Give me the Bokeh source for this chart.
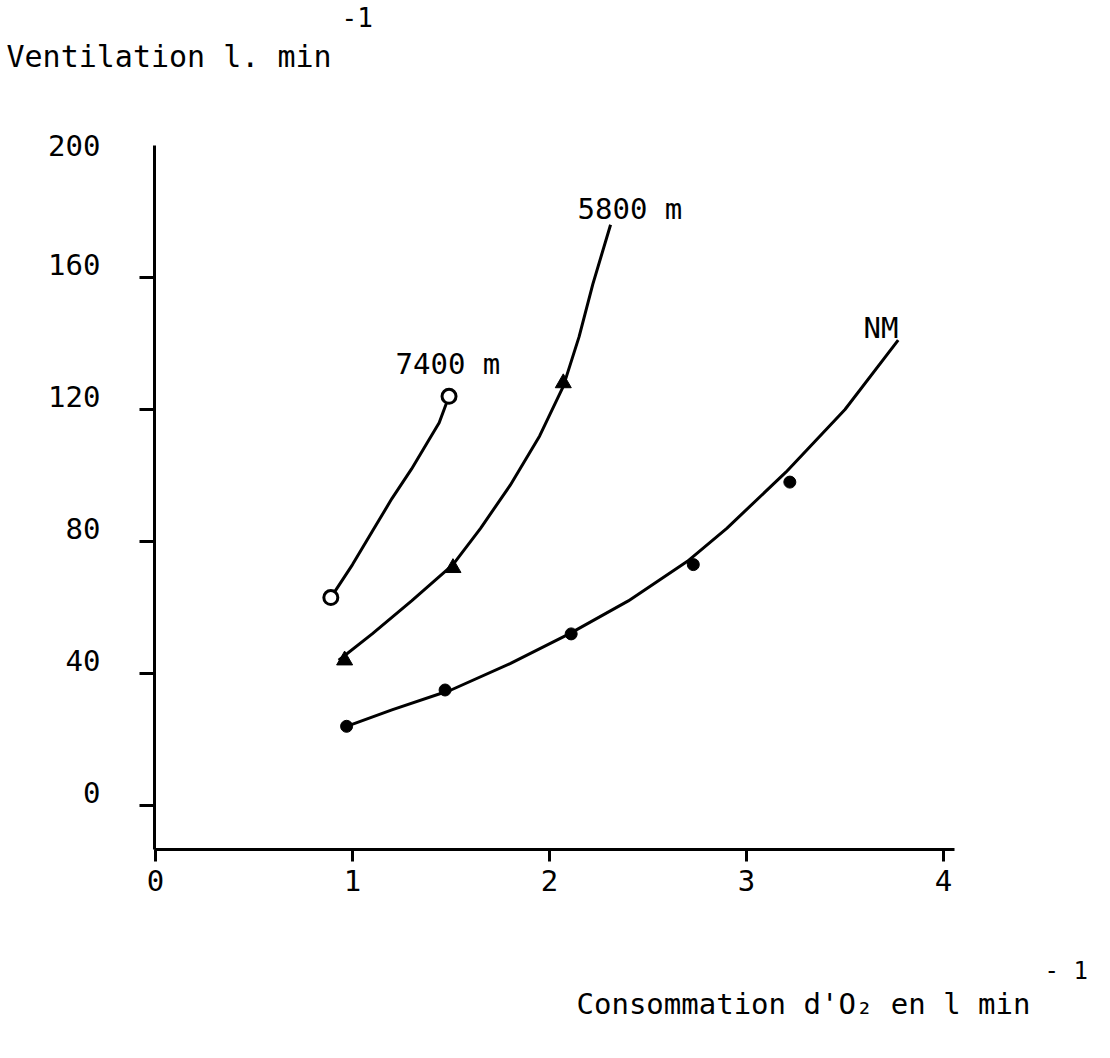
from bokeh.plotting import figure
from bokeh.models import Range1d, FixedTicker, Title, LinearAxis
from bokeh.core.properties import value
from bokeh.embed import file_html
from bokeh.resources import INLINE

# ---- data ----
x_ticks = [0, 1, 2, 3, 4]
y_ticks = [0, 40, 80, 120, 160, 200]

nm_pts_x = [0.97, 1.47, 2.11, 2.73, 3.22]
nm_pts_y = [24, 35, 52, 73, 98]
nm_curve_x = [0.97, 1.2, 1.5, 1.8, 2.1, 2.4, 2.7, 2.9, 3.2, 3.5, 3.77]
nm_curve_y = [24, 29, 35, 43, 52, 62, 74, 84, 101, 120, 141]

m5800_pts_x = [0.96, 1.51, 2.07]
m5800_pts_y = [44, 72, 128]
m5800_curve_x = [0.93, 1.1, 1.3, 1.51, 1.65, 1.8, 1.95, 2.07, 2.15, 2.22, 2.31]
m5800_curve_y = [44, 52, 62, 73, 84, 97, 112, 127, 142, 158, 176]

m7400_pts_x = [0.89, 1.49]
m7400_pts_y = [63, 124]
m7400_curve_x = [0.89, 1.0, 1.1, 1.2, 1.3, 1.38, 1.44, 1.49]
m7400_curve_y = [63, 73, 83, 93, 102, 110, 116, 124]

series_names = ["7400 m", "5800 m", "NM"]

y_title = "Ventilation l. min"
y_title_sup = "-1"
x_title = "Consommation d'O\u2082 en l min"
x_title_sup = "- 1"

FONT = "DejaVu Sans Mono"
FS = "29px"

# layout helpers: canvas pixel -> data (x: 0 at 155px, 197 px/unit; y: 0 at 805px, 3.3 px/unit)
def px2x(px):
    return (px - 155) / 197.0

def py2y(py):
    return (805 - py) / 3.3

W, H = 1094, 1042
FL, FR, FT, FB = 154, 954, 145, 849   # frame edges in canvas pixels
p = figure(width=W, height=H, output_backend="svg", toolbar_location=None,
           x_range=Range1d(px2x(FL), px2x(FR)), y_range=Range1d(py2y(FB), py2y(FT)),
           min_border_left=FL, min_border_right=W - FR, min_border_top=0,
           min_border_bottom=H - FB)
p.outline_line_color = None
p.grid.visible = False
p.background_fill_color = "white"
p.border_fill_color = "white"

for ax in (p.xaxis[0], p.yaxis[0]):
    ax.axis_line_width = 3
    ax.axis_line_color = "black"
    ax.major_tick_line_width = 3
    ax.major_tick_line_color = "black"
    ax.minor_tick_line_color = None
    ax.major_tick_in = 0
    ax.major_label_text_font = FONT
    ax.major_label_text_font_size = FS
    ax.major_label_text_color = "black"

p.xaxis.ticker = FixedTicker(ticks=x_ticks)
p.xaxis.major_tick_out = 12
p.xaxis.major_label_standoff = 8

# left axis next to the frame: line and tick marks (the top of the axis carries no mark)
p.yaxis.ticker = FixedTicker(ticks=y_ticks[:-1])
p.yaxis.major_tick_out = 15
p.yaxis.major_label_standoff = 0
p.yaxis.major_label_text_font_size = "1px"
p.yaxis.major_label_text_color = None

# second left axis: only the tick labels, which sit just above their marks as in the original
LABEL_LIFT = 4  # value units (about 13 px)
lab_pos = [t + LABEL_LIFT if t < y_ticks[-1] else t for t in y_ticks]
label_axis = LinearAxis(ticker=FixedTicker(ticks=lab_pos),
                        major_label_overrides={pos: str(t) for pos, t in zip(lab_pos, y_ticks)},
                        axis_line_color=None, major_tick_line_color=None, minor_tick_line_color=None,
                        major_tick_in=0, major_tick_out=0, major_label_standoff=39,
                        major_label_text_font=FONT, major_label_text_font_size=FS,
                        major_label_text_color="black")
p.add_layout(label_axis, "left")

# curves
for cx, cy in ((nm_curve_x, nm_curve_y), (m5800_curve_x, m5800_curve_y), (m7400_curve_x, m7400_curve_y)):
    p.line(cx, cy, line_color="black", line_width=3, line_join="round")

# markers
p.scatter(nm_pts_x, nm_pts_y, marker="circle", size=12, fill_color="black", line_color="black")
p.scatter(m5800_pts_x, m5800_pts_y, marker="triangle", size=16, fill_color="black", line_color="black")
p.scatter(m7400_pts_x, m7400_pts_y, marker="circle", size=14, fill_color="white", line_color="black", line_width=3)

# series labels
lab_x = [px2x(395), px2x(577), px2x(863)]
lab_y = [py2y(363), py2y(208), py2y(327)]
p.text(lab_x, lab_y, text=series_names, text_font=value(FONT), text_font_size=value(FS),
       text_baseline="alphabetic", text_align="left", text_color="black")

def ttl(text, x, size, standoff):
    return Title(text=text, align="left", offset=x - 156, text_font=FONT, text_font_size=size,
                 text_font_style="normal", text_color="black", standoff=standoff)

def spacer(standoff):
    return Title(text=" ", text_font=FONT, text_font_size="10px", text_font_style="normal",
                 standoff=standoff)

# above: rows stack outward from the frame (spacer, title, superscript)
p.add_layout(spacer(53), "above")
p.add_layout(ttl(y_title, 8, "30px", 12), "above")
p.add_layout(ttl(y_title_sup, 343, "26px", 8), "above")

# below: after the axis come spacer, superscript row, main row
p.add_layout(spacer(48), "below")
p.add_layout(ttl(x_title_sup, 1046, "24px", 0), "below")
p.add_layout(ttl(x_title, 578, FS, 0), "below")

open("out.html", "w").write(file_html(p, INLINE))
